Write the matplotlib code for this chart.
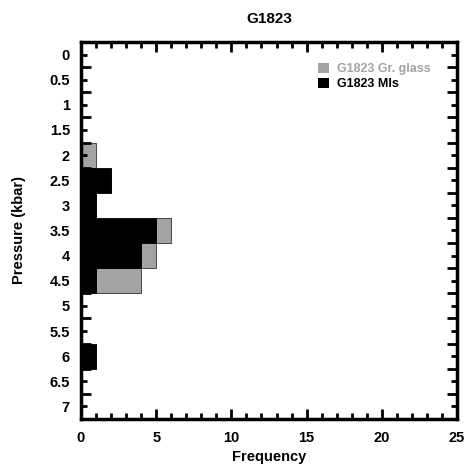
import numpy as np
import matplotlib
matplotlib.use('Agg')
import matplotlib.pyplot as plt
from matplotlib.ticker import MultipleLocator, FixedLocator

plt.rcParams['font.family'] = ['Liberation Sans', 'DejaVu Sans']
plt.rcParams['font.weight'] = 'bold'

# bin centres (kbar) and counts
pressure = [0, 0.5, 1, 1.5, 2, 2.5, 3, 3.5, 4, 4.5, 5, 5.5, 6, 6.5, 7]
mis = [0, 0, 0, 0, 0, 2, 1, 5, 4, 1, 0, 0, 1, 0, 0]
gr_glass = [0, 0, 0, 0, 1, 0, 0, 1, 1, 3, 0, 0, 0, 0, 0]

fig = plt.figure(figsize=(4.69, 4.66), dpi=100)
ax = fig.add_axes([0.1727, 0.1009, 0.8017, 0.809])

ax.barh(pressure, gr_glass, height=0.5, left=mis, color='#a3a3a3',
        edgecolor='#333333', linewidth=0.6, label='G1823 Gr. glass')
ax.barh(pressure, mis, height=0.5, color='black',
        edgecolor='black', linewidth=0.6, label='G1823 MIs')

ax.set_xlim(0, 25)
ax.set_ylim(7.25, -0.25)

ax.xaxis.set_major_locator(MultipleLocator(5))
ax.xaxis.set_minor_locator(MultipleLocator(1))
ax.yaxis.set_major_locator(FixedLocator(pressure))
ax.yaxis.set_minor_locator(FixedLocator(np.arange(0.25, 7.0, 0.5)))
ax.set_yticklabels(['0', '0.5', '1', '1.5', '2', '2.5', '3', '3.5', '4',
                    '4.5', '5', '5.5', '6', '6.5', '7'])

ax.tick_params(axis='x', which='major', direction='in', length=7, width=2,
               top=True, bottom=True, labelsize=10.5, pad=9)
ax.tick_params(axis='x', which='minor', direction='in', length=4, width=2,
               top=True, bottom=True)
ax.tick_params(axis='y', which='major', direction='in', length=4, width=2,
               left=True, right=True, labelsize=10.5, pad=8)
ax.tick_params(axis='y', which='minor', direction='in', length=7, width=2,
               left=True, right=True)
for lab in ax.get_xticklabels() + ax.get_yticklabels():
    lab.set_fontweight('bold')

for s in ax.spines.values():
    s.set_linewidth(2.5)

ax.set_xlabel('Frequency', fontsize=10.5, fontweight='bold', labelpad=3)
ax.set_ylabel('Pressure (kbar)', fontsize=10.5, fontweight='bold', labelpad=17)
ax.set_title('G1823', fontsize=11, fontweight='bold', pad=14)

leg = ax.legend(loc='upper right', bbox_to_anchor=(0.96, 0.975), frameon=False,
                fontsize=9, handlelength=0.9, handleheight=0.9,
                handletextpad=0.6, labelspacing=0.2)
leg.get_texts()[0].set_color('#a3a3a3')
for t in leg.get_texts():
    t.set_fontweight('bold')
for h in leg.legend_handles:
    h.set_edgecolor('none')

fig.savefig('out.png', dpi=100)
